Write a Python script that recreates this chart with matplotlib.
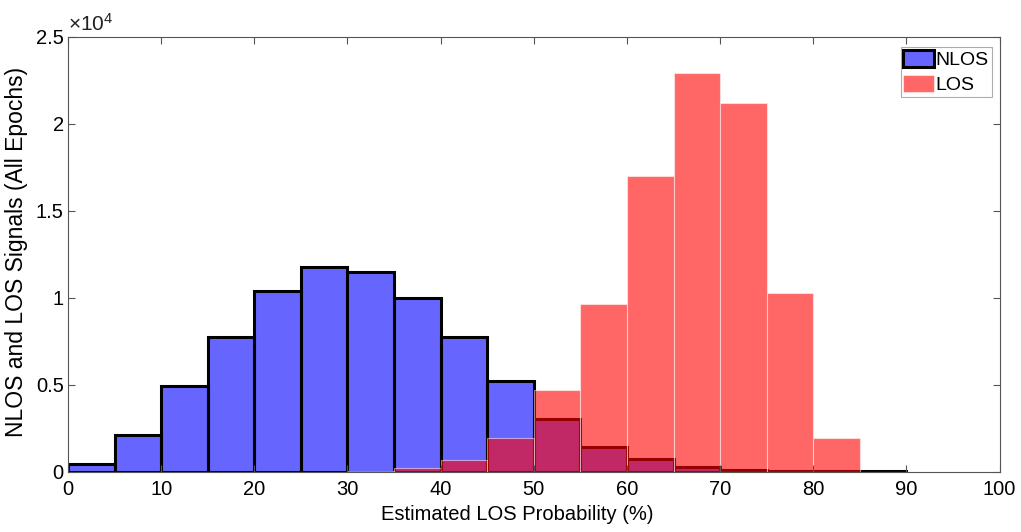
import numpy as np
import matplotlib
matplotlib.use("Agg")
import matplotlib.pyplot as plt

plt.rcParams['font.family'] = ['Liberation Sans', 'DejaVu Sans']
plt.rcParams['mathtext.default'] = 'regular'

# bin edges (%), counts
bin_left = np.arange(0, 90, 5)
nlos_counts = [460, 2130, 4940, 7760, 10400, 11780, 11490, 10000, 7760,
               5230, 3050, 1440, 750, 290, 120, 70, 40, 30]
los_counts = [0, 0, 0, 0, 0, 10, 50, 230, 690,
              1950, 4710, 9660, 17010, 22930, 21210, 10290, 1950, 0]

fig = plt.figure(figsize=(10.21, 5.32), dpi=100)
ax = fig.add_axes([0.0666, 0.1128, 0.9124, 0.8177])

ax.bar(bin_left, nlos_counts, width=5, align='edge',
       facecolor=(0, 0, 1, 0.6), edgecolor='black', linewidth=2.2, label='NLOS')
ax.bar(bin_left, los_counts, width=5, align='edge',
       facecolor=(1, 0, 0, 0.6), edgecolor=(1, 1, 1, 0.5), linewidth=0.8, label='LOS')

ax.set_xlim(0, 100)
ax.set_ylim(0, 25000)
ax.set_xticks(np.arange(0, 101, 10))
ax.set_yticks(np.arange(0, 25001, 5000))
ax.set_yticklabels(['0', '0.5', '1', '1.5', '2', '2.5'])
ax.tick_params(direction='in', length=5, width=0.8, color='#555555',
               labelsize=14.5, top=True, right=True)
ax.tick_params(axis='x', pad=6)
ax.tick_params(axis='y', pad=3)
for s in ax.spines.values():
    s.set_color('#555555')
    s.set_linewidth(0.8)

ax.text(0.0, 1.006, r'$\times10^{4}$', transform=ax.transAxes,
        fontsize=15, ha='left', va='bottom', color='#222222')

ax.set_xlabel('Estimated LOS Probability (%)', fontsize=14.5)
ax.xaxis.set_label_coords(0.482, -0.077)
ax.set_ylabel('NLOS and LOS Signals (All Epochs)', fontsize=16.5)
ax.yaxis.set_label_coords(-0.043, 0.505)

leg = ax.legend(loc='upper right', fontsize=14, frameon=True, fancybox=False,
                edgecolor='#999999', handlelength=1.55, handleheight=1.0,
                handletextpad=0.1, borderpad=0.15, labelspacing=0.3,
                borderaxespad=0, bbox_to_anchor=(0.9914, 0.977))
leg.get_frame().set_linewidth(0.8)

fig.savefig('out.png', dpi=100)
plt.close()
